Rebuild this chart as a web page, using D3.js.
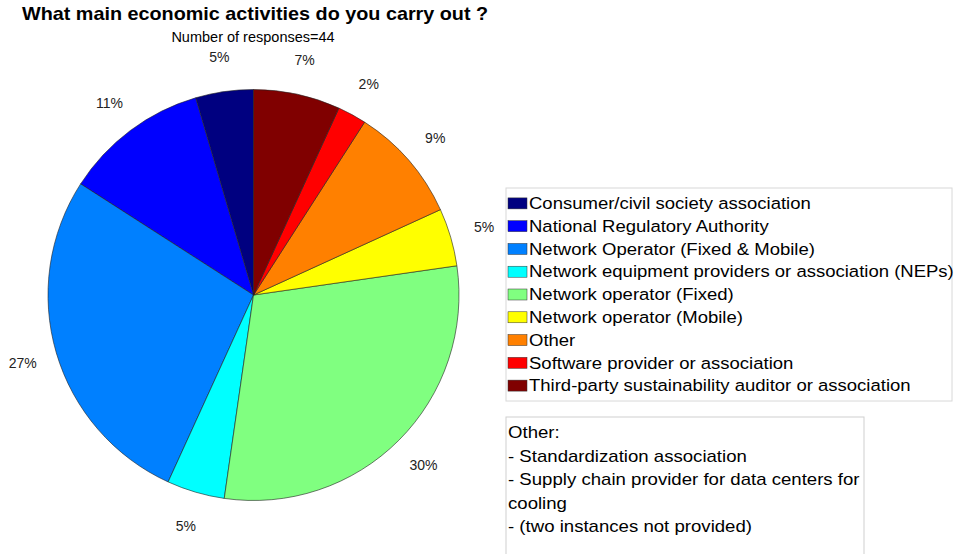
<!DOCTYPE html>
<html>
<head>
<meta charset="utf-8">
<script src="https://cdn.jsdelivr.net/npm/d3@7"></script>
<style>
  html, body { margin: 0; padding: 0; background: #fff; }
  svg { display: block; font-family: "Liberation Sans", Arial, sans-serif; }
</style>
</head>
<body>
<svg id="chart" width="956" height="554"></svg>
<script>
// Survey answers: number of respondents per activity (44 in total)
const categories = [
  "Consumer/civil society association",
  "National Regulatory Authority",
  "Network Operator (Fixed & Mobile)",
  "Network equipment providers or association (NEPs)",
  "Network operator (Fixed)",
  "Network operator (Mobile)",
  "Other",
  "Software provider or association",
  "Third-party sustainability auditor or association"
];
const counts = [2, 5, 12, 2, 13, 2, 4, 1, 3];
const colors = ["#000080", "#0000ff", "#0080ff", "#00ffff", "#80ff80",
                "#ffff00", "#ff8000", "#ff0000", "#800000"];
const titleText = "What main economic activities do you carry out ?";
const otherNotes = [
  "Other:",
  "- Standardization association",
  "- Supply chain provider for data centers for",
  "cooling",
  "- (two instances not provided)"
];

const total = d3.sum(counts);
const svg = d3.select("#chart");

// Helvetica-like wide text: slight horizontal stretch of the glyphs
const wide = 1.095;

// Title and subtitle
svg.append("g")
  .attr("transform", `translate(22,20) scale(1.1,1)`)
  .append("text")
  .attr("font-size", 18).attr("font-weight", "bold")
  .attr("fill", "#000")
  .text(titleText);

svg.append("text")
  .attr("x", 253).attr("y", 42)
  .attr("text-anchor", "middle")
  .attr("font-size", 14.5)
  .attr("fill", "#000")
  .text("Number of responses=" + total);

// Pie: first slice starts at 12 o'clock, slices run counter-clockwise
const cx = 253.5, cy = 295, r = 205.5;
const pie = d3.pie().sort(null).value(d => d)
  .startAngle(0).endAngle(-2 * Math.PI);
const arcs = pie(counts);
const arc = d3.arc().innerRadius(0).outerRadius(r);
const labelArc = d3.arc().innerRadius(r * 1.17).outerRadius(r * 1.17);

const g = svg.append("g").attr("transform", `translate(${cx},${cy})`);

g.selectAll("path.slice")
  .data(arcs)
  .join("path")
  .attr("class", "slice")
  .attr("d", arc)
  .attr("fill", (d, i) => colors[i])
  .attr("stroke", "#222")
  .attr("stroke-width", 0.6);

g.selectAll("text.pct")
  .data(arcs)
  .join("text")
  .attr("class", "pct")
  .attr("transform", d => `translate(${labelArc.centroid(d)})`)
  .attr("text-anchor", "middle")
  .attr("dominant-baseline", "central")
  .attr("font-size", 14)
  .attr("fill", "#222")
  .text(d => Math.round(d.value / total * 100) + "%");

// Legend
const legX = 506, legY = 188, legW = 446, legH = 213;
const rowY = d3.scaleBand().domain(d3.range(categories.length))
  .range([legY + 4, legY + legH - 4]);

const legend = svg.append("g");
legend.append("rect")
  .attr("x", legX).attr("y", legY)
  .attr("width", legW).attr("height", legH)
  .attr("fill", "#fff")
  .attr("stroke", "#d8d8d8").attr("stroke-width", 1);

const rows = legend.selectAll("g.row")
  .data(categories)
  .join("g")
  .attr("class", "row")
  .attr("transform", (d, i) => `translate(0,${rowY(i) + rowY.bandwidth() / 2})`);

rows.append("rect")
  .attr("x", legX + 2).attr("y", -5.5)
  .attr("width", 19).attr("height", 11)
  .attr("fill", (d, i) => colors[i])
  .attr("stroke", "#333").attr("stroke-width", 0.5);

rows.append("g")
  .attr("transform", `translate(${legX + 23},0) scale(${wide - 0.006},1)`)
  .append("text")
  .attr("dominant-baseline", "central")
  .attr("font-size", 17)
  .attr("fill", "#000")
  .text(d => d);

// Note box describing the "Other" answers
const noteX = 506, noteY = 417, noteW = 358;
svg.append("rect")
  .attr("x", noteX).attr("y", noteY)
  .attr("width", noteW).attr("height", 160)
  .attr("fill", "#fff")
  .attr("stroke", "#cfcfcf").attr("stroke-width", 1);

svg.append("g").selectAll("g")
  .data(otherNotes)
  .join("g")
  .attr("transform", (d, i) => `translate(${noteX + 2},${noteY + 21 + i * 23.5}) scale(${wide},1)`)
  .append("text")
  .attr("font-size", 17)
  .attr("fill", "#000")
  .text(d => d);
</script>
</body>
</html>
